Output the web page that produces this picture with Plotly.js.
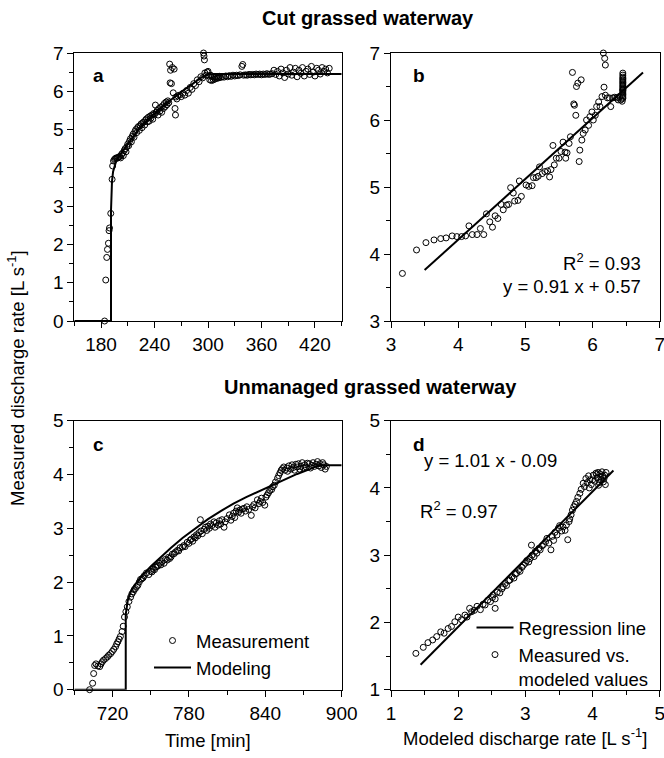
<!DOCTYPE html>
<html>
<head>
<meta charset="utf-8">
<script src="https://cdn.plot.ly/plotly-3.0.1.min.js"></script>
<style>html,body{margin:0;padding:0;background:#fff;}#chart{width:664px;height:758px;}</style>
</head>
<body>
<div id="chart"></div>
<script>
// ---------- Panel a: Cut grassed waterway, time series ----------
const aTime = [184,185.3,186.4,187.2,188.3,189,189.5,190.9,192.4,193,
  194,195,196,197,198,199,200,201,202,203,
  204,205,206,207,208,209,210,211,212,213,
  214,215,216,217,218,219,220,221,222,223,
  224,225,226,227,228,229,230,231,232,233,
  234,235,236,237,238,239,240,241,242,243,
  244,245,246,247,248,249,250,251,252,253,
  254,255,256,257,257.5,258,259,260,261,262,
  263,263.5,264,265,266,268,270,272,274,276,
  278,280,282,284,286,288,290,292,294,295,
  295.5,296,296.5,298,299,300,301,302,303,304,
  305,306,307,308,309,310,311,312,313,314,
  316,318,320,322,324,326,328,330,332,334,
  336,338,339,340,342,344,346,348,350,352,
  354,356,358,360,362,364,366,368,370,372,
  374,376,378,380,382,384,386,388,390,392,
  394,396,398,400,402,404,406,408,410,412,
  414,416,418,420,422,424,426,428,430,432,
  434,436];
const aMeas = [0.00,1.07,1.66,1.87,2.03,2.36,2.43,2.81,3.70,4.05,
  4.18,4.22,4.24,4.26,4.25,4.27,4.28,4.30,4.26,4.35,
  4.38,4.32,4.45,4.50,4.42,4.55,4.62,4.58,4.70,4.76,
  4.68,4.82,4.88,4.80,4.95,5.00,4.92,5.05,5.08,4.98,
  5.10,5.15,5.05,5.18,5.20,5.12,5.25,5.28,5.20,5.32,
  5.22,5.35,5.30,5.38,5.27,5.42,5.40,5.64,5.45,5.50,
  5.38,5.55,5.48,5.58,5.45,5.62,5.55,5.68,5.60,5.72,
  5.65,5.75,5.70,6.71,6.22,6.55,6.20,6.62,5.96,6.58,
  5.55,5.38,5.85,5.80,5.88,5.90,5.86,5.95,5.90,6.02,
  5.95,6.10,6.05,6.20,6.15,6.30,6.25,6.38,6.35,7.00,
  6.92,6.82,6.48,6.42,6.50,6.52,6.40,6.30,6.42,6.28,
  6.38,6.30,6.36,6.32,6.38,6.34,6.37,6.35,6.39,6.36,
  6.38,6.37,6.40,6.38,6.41,6.39,6.42,6.40,6.42,6.41,
  6.43,6.65,6.70,6.42,6.43,6.42,6.44,6.43,6.44,6.43,
  6.45,6.44,6.45,6.43,6.45,6.44,6.46,6.44,6.45,6.46,
  6.55,6.44,6.52,6.40,6.58,6.48,6.36,6.55,6.45,6.62,
  6.42,6.50,6.60,6.38,6.55,6.47,6.62,6.40,6.52,6.58,
  6.44,6.65,6.50,6.40,6.60,6.55,6.45,6.62,6.52,6.58,
  6.48,6.60];
const aModelTime = [150,191.2,191.2,191.6,192.3,193.5,195,197,200,204,209,215,222,230,238,246,254,262,270,278,286,294,300,306,450];
const aModel = [0,0,2.9,3.35,3.65,3.90,4.05,4.18,4.30,4.43,4.60,4.80,5.00,5.20,5.38,5.55,5.70,5.85,5.98,6.12,6.26,6.38,6.43,6.45,6.45];

// ---------- Panel b: Cut, measured vs modeled ----------
const bModeled = [3.17,3.38,3.52,3.64,3.74,3.82,3.91,3.98,4.05,4.11,
  4.16,4.21,4.28,4.33,4.38,4.42,4.47,4.51,4.55,4.59,
  4.64,4.67,4.72,4.75,4.78,4.82,4.84,4.89,4.91,4.94,
  5.01,5.05,5.10,5.12,5.16,5.19,5.21,5.25,5.29,5.33,
  5.36,5.38,5.41,5.43,5.46,5.50,5.53,5.56,5.59,5.60,
  5.62,5.65,5.67,5.70,5.72,5.73,5.75,5.76,5.78,5.80,
  5.81,5.83,5.84,5.86,5.89,5.91,5.94,5.96,5.99,6.01,
  6.04,6.06,6.09,6.11,6.14,6.16,6.18,6.19,6.17,6.19,
  6.22,6.25,6.27,6.30,6.33,6.36,6.38,6.40,6.42,6.44,
  6.45,6.45,6.45,6.45,6.45,6.45,6.45,6.45,6.45,6.45,
  6.45,6.45,6.45,6.45,6.45,6.45,6.45,6.45,6.45,6.45];
const bMeasured = [3.71,4.06,4.17,4.21,4.23,4.24,4.27,4.26,4.26,4.27,
  4.42,4.29,4.29,4.38,4.29,4.60,4.48,4.40,4.57,4.53,
  4.74,4.66,4.73,4.74,4.99,4.91,4.79,4.80,5.09,4.86,
  5.03,5.01,5.02,5.14,5.14,5.16,5.30,5.20,5.23,5.24,
  5.15,5.26,5.62,5.33,5.43,5.43,5.53,5.67,5.52,5.43,
  5.51,5.65,5.75,6.71,6.24,6.22,6.07,6.50,6.55,5.38,
  5.55,6.60,5.70,5.80,5.85,6.00,5.92,6.05,6.12,6.00,
  6.07,6.20,6.27,6.20,6.35,7.00,6.92,6.82,6.49,6.37,
  6.33,6.33,6.20,6.33,6.34,6.33,6.30,6.35,6.30,6.28,
  6.32,6.36,6.40,6.44,6.48,6.52,6.56,6.60,6.64,6.67,
  6.70,6.45,6.42,6.38,6.34,6.62,6.58,6.54,6.50,6.46];
const bLineX = [3.5, 6.75];
const bLineY = [3.76, 6.71];

// ---------- Panel c: Unmanaged grassed waterway, time series ----------
const cTime = [702,704.4,705.2,706,707,708.5,710,711,712,713,
  714.6,716,717,718.5,719.8,721,722.4,723.3,724.2,725.2,
  726.2,727.5,728.4,729.4,730.5,731.6,732.9,734.2,735.2,736.3,
  737,738,739,739.9,741,742,743,744,745,746.7,
  748.5,750,751,752,753,754,755,756,757,758,
  759,760.5,761.5,763,764,765,766,767,768.5,769.5,
  771,772,773,775,776,777,778.7,780,781,782,
  783,784,785,786,787,788,789,789.5,790.5,792,
  793,794,795,796,797,798,799.7,800.5,801.5,803,
  804,805,806,807.6,808.5,810,811.8,813,814,815,
  816,817,818,819,820,821,822,823.4,824.5,825.5,
  827,829,830,831,832,833.8,835,836,837,838,
  839.6,840.5,841.5,842.5,843.5,845,845.7,847,848,849.6,
  850.5,851.5,852.5,853.5,854.5,855.5,857,857.5,858.5,860,
  861,862,863,864,865,866,867,868,869,870,
  871,872,873,874.5,875.5,876.5,877.5,878.5,880,881,
  882,883,884,885,886,887,888];
const cMeas = [0.00,0.12,0.30,0.45,0.48,0.44,0.43,0.48,0.52,0.55,
  0.58,0.61,0.64,0.67,0.71,0.75,0.80,0.85,0.89,0.94,
  0.99,1.08,1.18,1.35,1.45,1.54,1.64,1.72,1.78,1.82,
  1.86,1.88,1.92,1.94,2.00,2.05,2.06,2.08,2.12,2.17,
  2.14,2.20,2.19,2.24,2.23,2.28,2.29,2.31,2.35,2.32,
  2.38,2.35,2.42,2.41,2.46,2.44,2.47,2.52,2.53,2.56,
  2.59,2.58,2.64,2.65,2.68,2.66,2.74,2.72,2.78,2.80,
  2.76,2.84,2.82,2.88,2.86,2.92,3.16,2.95,2.90,2.98,
  3.02,2.96,3.04,3.00,3.08,3.05,3.12,3.02,3.10,3.06,
  3.14,3.08,3.16,3.02,3.12,3.18,3.25,3.15,3.22,3.28,
  3.20,3.32,3.38,3.30,3.34,3.28,3.36,3.37,3.32,3.40,
  3.35,3.24,3.40,3.44,3.38,3.53,3.46,3.50,3.56,3.48,
  3.43,3.58,3.62,3.66,3.70,3.72,3.77,3.80,3.86,3.93,
  3.98,4.03,4.08,4.11,4.14,4.08,4.12,4.06,4.16,4.10,
  4.18,4.13,4.08,4.19,4.14,4.20,4.10,4.15,4.22,4.12,
  4.18,4.14,4.21,4.20,4.12,4.17,4.22,4.15,4.19,4.24,
  4.16,4.20,4.13,4.22,4.18,4.10,4.15];
const cModelTime = [690,730.4,730.4,731,732,734,737,740,744,750,758,766,775,785,795,805,815,825,835,845,855,865,875,882,900];
const cModel = [0,0,1.40,1.55,1.66,1.80,1.93,2.02,2.14,2.29,2.47,2.64,2.82,3.00,3.17,3.32,3.46,3.58,3.69,3.80,3.91,4.01,4.10,4.17,4.17];

// ---------- Panel d: Unmanaged, measured vs modeled ----------
const dModeled = [1.37,1.48,1.55,1.62,1.68,1.74,1.79,1.85,1.90,1.95,
  2.00,2.05,2.10,2.13,2.17,2.20,2.24,2.28,2.33,2.37,
  2.40,2.44,2.48,2.51,2.55,2.55,2.52,2.58,2.62,2.65,
  2.67,2.70,2.72,2.75,2.77,2.80,2.83,2.85,2.87,2.90,
  2.92,2.95,2.97,3.00,3.02,3.05,3.07,3.09,3.10,3.13,
  3.15,3.17,3.20,3.22,3.25,3.27,3.30,3.32,3.35,3.38,
  3.40,3.42,3.44,3.47,3.49,3.51,3.54,3.56,3.59,3.61,
  3.63,3.65,3.66,3.68,3.70,3.72,3.74,3.76,3.78,3.81,
  3.83,3.86,3.88,3.90,3.92,3.94,3.96,3.98,4.01,4.03,
  4.05,4.07,4.09,4.11,4.13,4.15,4.16,4.18,4.19,4.20,
  4.17,4.14,4.10,4.06,4.00,3.95,4.12,4.08];
const dMeasured = [1.54,1.63,1.70,1.74,1.79,1.86,1.84,1.91,1.94,2.01,
  2.08,2.04,2.11,2.08,2.21,2.16,2.18,2.24,2.19,2.27,
  2.26,2.33,2.31,2.37,2.35,2.21,2.41,2.45,2.44,2.50,
  2.53,2.58,2.55,2.62,2.63,2.68,2.66,2.72,2.73,2.78,
  2.76,2.82,2.85,2.88,2.92,2.90,2.95,3.15,3.00,2.98,
  3.06,3.03,3.10,3.08,3.14,3.16,3.20,3.25,3.18,3.08,
  3.28,3.22,3.34,3.30,3.40,3.44,3.36,3.42,3.37,3.45,
  3.23,3.50,3.54,3.60,3.67,3.72,3.76,3.80,3.86,3.92,
  3.98,4.07,4.02,4.14,4.08,4.18,4.12,4.05,4.19,4.10,
  4.22,4.15,4.04,4.21,4.12,4.18,4.09,4.19,4.05,4.23,
  4.14,4.24,4.08,4.20,4.12,4.00,4.17,4.23];
const dLineX = [1.44, 4.31];
const dLineY = [1.37, 4.26];

// ---------- Layout helpers ----------
const W = 664, H = 758;
const PX = p => p / W;
const PY = p => 1 - p / H;
const FONT = 'Liberation Sans, Arial, Helvetica, sans-serif';
const TXT = 18.5;

const mk = {symbol: 'circle-open', size: 6, color: '#000', line: {width: 1, color: '#000'}};
const ln = {color: '#000', width: 2};

function axis(dom, range, tick0, dtick, minor, anchor) {
  return {
    domain: dom, range: range, anchor: anchor,
    tickmode: 'linear', tick0: tick0, dtick: dtick,
    showline: true, linecolor: '#000', linewidth: 1, mirror: true,
    ticks: 'outside', ticklen: 6, tickwidth: 1, tickcolor: '#000',
    minor: {ticks: 'outside', ticklen: 4, tickwidth: 1, tickcolor: '#000', dtick: minor, tick0: tick0},
    showgrid: false, zeroline: false,
    ticklabeloverflow: 'allow',
    tickfont: {family: FONT, size: 19, color: '#000'},
    fixedrange: true
  };
}

const xL = [PX(74.3), PX(341.7)];
const xR = [PX(391), PX(659.8)];
const yTop = [PY(321), PY(53)];
const yBot = [PY(689.7), PY(420.7)];

const traces = [
  {x: aTime, y: aMeas, xaxis: 'x', yaxis: 'y', mode: 'markers', marker: mk, showlegend: false, cliponaxis: false, type: 'scatter'},
  {x: aModelTime, y: aModel, xaxis: 'x', yaxis: 'y', mode: 'lines', line: ln, showlegend: false, type: 'scatter'},
  {x: bModeled, y: bMeasured, xaxis: 'x2', yaxis: 'y2', mode: 'markers', marker: mk, showlegend: false, cliponaxis: false, type: 'scatter'},
  {x: bLineX, y: bLineY, xaxis: 'x2', yaxis: 'y2', mode: 'lines', line: ln, showlegend: false, type: 'scatter'},
  {x: cTime, y: cMeas, xaxis: 'x3', yaxis: 'y3', mode: 'markers', marker: mk, name: 'Measurement', legend: 'legend', cliponaxis: false, type: 'scatter'},
  {x: cModelTime, y: cModel, xaxis: 'x3', yaxis: 'y3', mode: 'lines', line: ln, name: 'Modeling', legend: 'legend', type: 'scatter'},
  {x: dLineX, y: dLineY, xaxis: 'x4', yaxis: 'y4', mode: 'lines', line: ln, name: 'Regression line', legend: 'legend2', type: 'scatter'},
  {x: dModeled, y: dMeasured, xaxis: 'x4', yaxis: 'y4', mode: 'markers', marker: mk, name: 'Measured vs.<br>modeled values', legend: 'legend2', cliponaxis: false, type: 'scatter'}
];

const tf = (size, bold) => ({family: FONT, size: size, color: '#000', weight: bold ? 'bold' : 'normal'});
function ann(text, x, y, xanchor, opts) {
  return Object.assign({text: text, x: PX(x), y: PY(y), xref: 'paper', yref: 'paper',
    xanchor: xanchor, yanchor: 'middle', showarrow: false, font: tf(TXT, false)}, opts || {});
}

const legendBase = {xanchor: 'left', yanchor: 'top', bgcolor: 'rgba(0,0,0,0)',
  font: {family: FONT, size: TXT, color: '#000'}, tracegroupgap: 0, itemwidth: 37};

const layout = {
  width: W, height: H,
  margin: {l: 0, r: 0, t: 0, b: 0},
  paper_bgcolor: '#fff', plot_bgcolor: '#fff',
  font: {family: FONT, size: TXT, color: '#000'},
  xaxis: axis(xL, [150, 450], 180, 60, 30, 'y'),
  yaxis: axis(yTop, [0, 7], 0, 1, 0.5, 'x'),
  xaxis2: axis(xR, [3, 7], 3, 1, 0.5, 'y2'),
  yaxis2: axis(yTop, [3, 7], 3, 1, 0.5, 'x2'),
  xaxis3: axis(xL, [690, 900], 720, 60, 30, 'y3'),
  yaxis3: axis(yBot, [0, 5], 0, 1, 0.5, 'x3'),
  xaxis4: axis(xR, [1, 5], 1, 1, 0.5, 'y4'),
  yaxis4: axis(yBot, [1, 5], 1, 1, 0.5, 'x4'),
  legend: Object.assign({x: PX(149), y: PY(622)}, legendBase),
  legend2: Object.assign({x: PX(471.5), y: PY(609), valign: 'top'}, legendBase),
  annotations: [
    ann('Cut grassed waterway', 368, 18, 'center', {font: tf(20, true)}),
    ann('Unmanaged grassed waterway', 370, 387, 'center', {font: tf(20, true)}),
    ann('a', 98, 75, 'center', {font: tf(19, true)}),
    ann('b', 419, 75, 'center', {font: tf(19, true)}),
    ann('c', 98, 444, 'center', {font: tf(19, true)}),
    ann('d', 419, 444, 'center', {font: tf(19, true)}),
    ann('R<sup>2</sup> = 0.93', 643, 262, 'right'),
    ann('y = 0.91 x + 0.57', 643, 286, 'right'),
    ann('y = 1.01 x - 0.09', 422, 460, 'left'),
    ann('R<sup>2</sup> = 0.97', 418, 510, 'left'),
    ann('Time [min]', 208, 740, 'center'),
    ann('Modeled discharge rate [L s<sup>-1</sup>]', 525, 737, 'center'),
    ann('Measured discharge rate [L s<sup>-1</sup>]', 16, 378, 'center', {textangle: -90})
  ]
};

Plotly.newPlot('chart', traces, layout, {staticPlot: true, displayModeBar: false});
</script>
</body>
</html>
